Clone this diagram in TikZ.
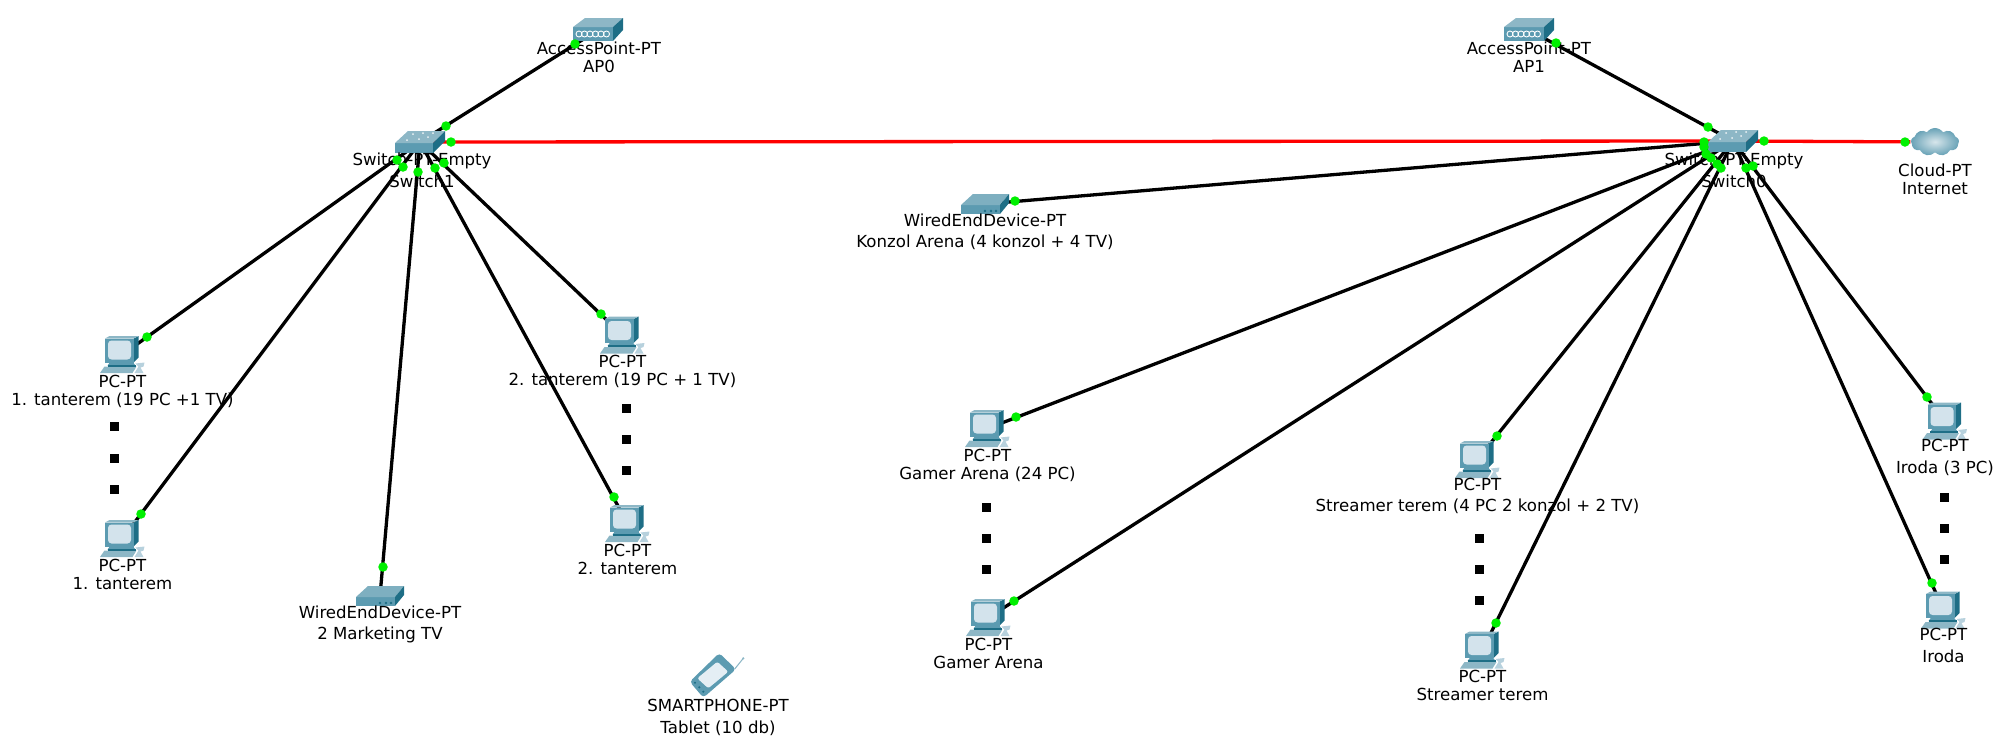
\documentclass[tikz,border=0pt]{standalone}
\usepackage{fontspec}
\setmainfont{DejaVu Sans}
\usepackage{xcolor}
\usetikzlibrary{positioning,backgrounds,shapes.symbols}

\definecolor{tealtop}{HTML}{8DB7C6}
\definecolor{tealfront}{HTML}{5C9BB1}
\definecolor{tealside}{HTML}{1E6E86}
\definecolor{screenlight}{HTML}{D3E3EC}
\definecolor{portgreen}{HTML}{00F000}

\newcommand{\devtext}[2]{\lineskiplimit=-5pt \strut #1\\\strut #2}

\tikzset{
  switchicon/.pic={
    \fill[tealfront] (-25,1) -- (13,1) -- (13,11) -- (-25,11) -- cycle;
    \fill[tealtop] (-25,1) -- (-12,-11) -- (25,-11) -- (13,1) -- cycle;
    \fill[tealside] (13,1) -- (25,-11) -- (25,-1) -- (13,11) -- cycle;
    \foreach \p in {(-13,-2),(-7,-8),(-1,-3),(3,-9),(8,-5),(13,-9)}
      \fill[white!85!tealtop] \p circle (1);
  },
  apicon/.pic={
    \fill[tealfront] (-25,-3) -- (15,-3) -- (15,11) -- (-25,11) -- cycle;
    \fill[tealtop] (-25,-3) -- (-13,-12) -- (25,-12) -- (15,-3) -- cycle;
    \fill[tealside] (15,-3) -- (25,-12) -- (25,0) -- (15,11) -- cycle;
    \foreach \x in {-19,-13.5,-8,-2.5,3,8.5}
      \draw[white,line width=0.25pt] (\x,4) circle (3);
  },
  wiredicon/.pic={
    \fill[tealfront] (-24,1) -- (15,1) -- (15,10) -- (-24,10) -- cycle;
    \fill[tealtop!70!tealfront] (-24,1) -- (-12,-10) -- (24,-10) -- (15,1) -- cycle;
    \fill[tealside] (15,1) -- (24,-10) -- (24,-1) -- (15,10) -- cycle;
    \foreach \x in {0,6,11} \fill[tealside] (\x,7) circle (1.3);
  },
  pcicon/.pic={
    % keyboard and mouse
    \fill[tealtop] (-18,12) -- (14,12) -- (10,18.5) -- (-22.5,18.5) -- cycle;
    \fill[screenlight!60!tealtop] (13,9) -- (22,8) -- (21,12) -- (18,13) -- (21,18.5) -- (12,18.5) -- (16,12) -- cycle;
    % stand
    \fill[tealfront] (-12,7) -- (10,7) -- (13,11) -- (-15,11) -- cycle;
    \fill[tealside] (-15,10) -- (13,10) -- (13,12) -- (-15,12) -- cycle;
    % monitor
    \fill[tealside] (11,-16) -- (16,-18.5) -- (16,3) -- (11,8) -- cycle;
    \fill[tealtop] (-17.5,-16) -- (-13,-18.5) -- (16,-18.5) -- (11,-16) -- cycle;
    \fill[tealfront] (-17.5,-16) -- (11,-16) -- (11,8) -- (-17.5,8) -- cycle;
    \fill[screenlight,rounded corners=1pt] (-14.5,-14) -- (8.5,-14) -- (8.5,5) -- (-14.5,5) -- cycle;
  },
  phoneicon/.pic={
    \draw[tealtop,line width=0.3pt] (22,-6) -- (30.6,-16.7);
    \fill[tealtop] (30.6,-16.7) circle (1.2);
    \fill[tealfront,rounded corners=1pt] (6.6,-22) -- (23.3,-5.7) -- (-9.4,22.7) -- (-23,6.7) -- cycle;
    \fill[screenlight!60!white,rounded corners=0.6pt] (4.6,-13.3) -- (15.6,-3.3) -- (-4.4,13.3) -- (-15.4,3.3) -- cycle;
    \foreach \p in {(-17.7,7.7),(-13.4,12.3),(-9.4,16.7)} \fill[tealside] \p circle (1.2);
  },
}

\begin{document}
\begin{tikzpicture}[x=0.01cm, y=-0.01cm,
  devspot/.style={coordinate},
  devlabel/.style={align=center, inner sep=0pt, font=\fontsize{4.72}{5.12}\selectfont},
  inetcloud/.style={cloud, cloud puffs=9, cloud puff arc=110, aspect=1.7, inner sep=0pt,
    minimum width=0.48cm, minimum height=0.28cm, shading=radial,
    inner color=tealtop!35!white, outer color=tealfront!75!tealtop},
  cableline/.style={black, line width=0.033cm},
  uplinkline/.style={red, line width=0.033cm},
  portdot/.style={circle, fill=portgreen, inner sep=0pt, minimum size=0.095cm},
  morebox/.style={rectangle, fill=black, inner sep=0pt, minimum size=0.09cm}]
  \useasboundingbox (0,0) rectangle (2008,754);

  % switches and access points
  \node[devspot] (sw1) at (420,142) {}; \pic at (sw1) {switchicon};
  \node[devspot] (sw0) at (1733,141) {}; \pic at (sw0) {switchicon};
  \node[devspot] (ap0) at (598,30) {}; \pic at (ap0) {apicon};
  \node[devspot] (ap1) at (1529,30) {}; \pic at (ap1) {apicon};
  \node[devlabel] (sw1txt) at (422,173) {\devtext{Switch-PT-Empty}{Switch1}};
  \node[devlabel] (sw0txt) at (1734,173) {\devtext{Switch-PT-Empty}{Switch0}};
  \node[devlabel] (ap0txt) at (599,60) {\devtext{AccessPoint-PT}{AP0}};
  \node[devlabel] (ap1txt) at (1529,60) {\devtext{AccessPoint-PT}{AP1}};

  % the cloud, the wired devices, the phone
  \node[inetcloud] (inet) at (1935,142) {};
  \node[devlabel] (inettxt) at (1935,182) {\devtext{Cloud-PT}{Internet}};
  \node[devspot] (tvset) at (380,596) {}; \pic at (tvset) {wiredicon};
  \node[devspot] (konzol) at (985,204) {}; \pic at (konzol) {wiredicon};
  \node[devlabel] (tvsettxt) at (380,625.5) {\devtext{WiredEndDevice-PT}{2 Marketing TV}};
  \node[devlabel] (konzoltxt) at (985,233.5) {\devtext{WiredEndDevice-PT}{Konzol Arena (4 konzol + 4 TV)}};
  \node[devspot] (tablet) at (712.7,675) {}; \pic at (tablet) {phoneicon};
  \node[devlabel] (tablettxt) at (718,719) {\devtext{SMARTPHONE-PT}{Tablet (10 db)}};

  \foreach \name/\x/\y/\title in {
      pca/122.5/354.5/{1. tanterem (19 PC +1 TV)},
      pcb/122.5/538.5/{1. tanterem},
      pcc/622.5/335/{2. tanterem (19 PC + 1 TV)},
      pcd/627.5/523.5/{2. tanterem},
      pce/987.5/428.5/{Gamer Arena (24 PC)},
      pcf/988.5/617.5/{Gamer Arena},
      pcg/1477.5/459.5/{Streamer terem (4 PC 2 konzol + 2 TV)},
      pch/1482.5/650/{Streamer terem},
      pci/1945/421/{Iroda (3 PC)},
      pcj/1943.5/610/{Iroda}} {
    \node[devspot] (\name) at (\x,\y) {};
    \pic at (\name) {pcicon};
    \node[devlabel] (\name txt) at (\x,\y+38) {\devtext{PC-PT}{\title}};
  }

  \begin{scope}[on background layer]
    \foreach \a/\b in {sw1/ap0,sw1/pca,sw1/pcb,sw1/tvset,sw1/pcc,sw1/pcd,
                       sw0/ap1,sw0/konzol,sw0/pce,sw0/pcf,sw0/pcg,sw0/pch,sw0/pci,sw0/pcj}
      \draw[cableline] (\a) -- (\b);
    \draw[uplinkline] (sw1) -- (sw0);
    \draw[uplinkline] (sw0) -- (inet);
  \end{scope}

  % port lights
  \foreach \p [count=\i] in {(575,44),(446,126),(451,142),(397,160),(403,167),(418,172),
      (435,168),(444,163),(147,337),(141,514),(383,567),(601,314),(614,497),
      (1556,43),(1708,127),(1704,142),(1704,147),(1706,154),(1711,158),(1717,164),
      (1721,168),(1746,168),(1753,166),(1764,141),(1905,142),(1015,201),
      (1016,417),(1014,601),(1497,436),(1496,623),(1927,397),(1932,583)}
    \node[portdot] (port\i) at \p {};

  % the dots between the two ends of each room
  \foreach \x/\y [count=\i] in {114.5/426.5,114.5/458,114.5/489,626/408,626/439,626/470,
      986/507,986/538,986/569,1479/538,1479/569,1479/600,1944/497,1944/528,1944/559}
    \node[morebox] (more\i) at (\x,\y) {};
\end{tikzpicture}
\end{document}
